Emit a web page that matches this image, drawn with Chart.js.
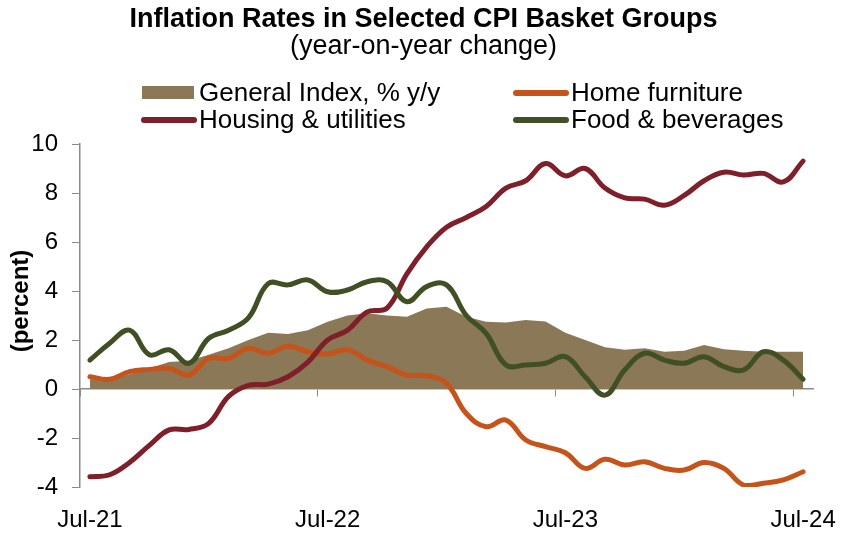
<!DOCTYPE html>
<html>
<head>
<meta charset="utf-8">
<script src="https://cdn.jsdelivr.net/npm/chart.js@4"></script>
<style>
  html, body { margin: 0; padding: 0; background: #fff; }
  #wrap { width: 847px; height: 536px; }
</style>
</head>
<body>
<div id="wrap"><canvas id="cpiChart"></canvas></div>
<script>
const months = ['Jul-21','Aug-21','Sep-21','Oct-21','Nov-21','Dec-21','Jan-22','Feb-22','Mar-22','Apr-22','May-22','Jun-22',
                'Jul-22','Aug-22','Sep-22','Oct-22','Nov-22','Dec-22','Jan-23','Feb-23','Mar-23','Apr-23','May-23','Jun-23',
                'Jul-23','Aug-23','Sep-23','Oct-23','Nov-23','Dec-23','Jan-24','Feb-24','Mar-24','Apr-24','May-24','Jun-24',
                'Jul-24'];

const generalIndex = [0.4, 0.4, 0.6, 0.85, 1.1, 1.15, 1.4, 1.66, 2.0, 2.3, 2.25, 2.4,
                      2.75, 3.0, 3.09, 3.0, 2.95, 3.29, 3.36, 2.95, 2.75, 2.71, 2.82, 2.76,
                      2.3, 2.0, 1.7, 1.6, 1.66, 1.52, 1.56, 1.8, 1.62, 1.56, 1.52, 1.52, 1.52];
const homeFurniture = [0.5, 0.4, 0.71, 0.8, 0.84, 0.57, 1.25, 1.25, 1.66, 1.46, 1.75, 1.52,
                       1.43, 1.6, 1.18, 0.91, 0.57, 0.54, 0.23, -1.0, -1.54, -1.27, -2.08, -2.35,
                       -2.6, -3.24, -2.87, -3.1, -2.97, -3.24, -3.31, -3.0, -3.24, -3.92, -3.85, -3.71, -3.38];
const housingUtilities = [-3.58, -3.5, -3.0, -2.3, -1.67, -1.65, -1.4, -0.3, 0.15, 0.2, 0.5, 1.1,
                          2.0, 2.4, 3.15, 3.3, 4.7, 5.8, 6.6, 7.0, 7.45, 8.2, 8.5, 9.2,
                          8.7, 9.0, 8.2, 7.8, 7.75, 7.5, 7.9, 8.5, 8.85, 8.73, 8.8, 8.45, 9.3];
const foodBeverages = [1.18, 1.87, 2.4, 1.4, 1.6, 1.05, 2.07, 2.4, 2.9, 4.3, 4.25, 4.45,
                       3.97, 4.04, 4.38, 4.38, 3.56, 4.18, 4.25, 3.0, 2.27, 0.98, 0.98, 1.05,
                       1.32, 0.5, -0.25, 0.78, 1.46, 1.18, 1.05, 1.32, 0.91, 0.78, 1.52, 1.18, 0.4];

const FONT = '"Liberation Sans", Arial, sans-serif';
const AXIS_GREY = '#8a8a8a';

// title, subtitle, 2x2 legend and y-axis title
const headerPlugin = {
  id: 'header',
  afterDraw(chart) {
    const c = chart.ctx;
    c.save();
    c.fillStyle = '#000';
    c.textAlign = 'center';
    c.textBaseline = 'middle';
    c.font = 'bold 27px ' + FONT;
    c.fillText('Inflation Rates in Selected CPI Basket Groups', chart.width / 2, 20);
    c.font = '27px ' + FONT;
    c.fillText('(year-on-year change)', chart.width / 2, 47);

    const slots = [[142, 93], [514, 93], [142, 120], [514, 120]];
    chart.data.datasets.forEach((ds, i) => {
      const [x, y] = slots[i];
      if (ds.fill) {
        c.fillStyle = ds.backgroundColor;
        c.fillRect(x, y - 7, 52, 13);
      } else {
        c.strokeStyle = ds.borderColor;
        c.lineWidth = 6;
        c.lineCap = 'round';
        c.beginPath();
        c.moveTo(x + 2, y);
        c.lineTo(x + 52, y);
        c.stroke();
      }
      c.fillStyle = '#000';
      c.textAlign = 'left';
      c.font = '26px ' + FONT;
      c.fillText(ds.label, x + 57, y + 1);
    });

    c.translate(21, 301);
    c.rotate(-Math.PI / 2);
    c.textAlign = 'center';
    c.font = 'bold 24px ' + FONT;
    c.fillText('(percent)', 0, 0);
    c.restore();
  }
};

const ctx = document.getElementById('cpiChart').getContext('2d');

new Chart(ctx, {
  type: 'line',
  data: {
    labels: months,
    datasets: [
      {
        label: 'General Index, % y/y',
        data: generalIndex,
        fill: 'origin',
        backgroundColor: 'rgb(139, 120, 87)',
        borderWidth: 0,
        pointRadius: 0,
        tension: 0,
        order: 4
      },
      {
        label: 'Home furniture',
        data: homeFurniture,
        borderColor: 'rgb(197, 83, 26)',
        borderWidth: 5,
        pointRadius: 0,
        tension: 0.4,
        borderCapStyle: 'round',
        borderJoinStyle: 'round',
        order: 3
      },
      {
        label: 'Housing & utilities',
        data: housingUtilities,
        borderColor: 'rgb(126, 31, 42)',
        borderWidth: 5,
        pointRadius: 0,
        tension: 0.4,
        borderCapStyle: 'round',
        borderJoinStyle: 'round',
        order: 2
      },
      {
        label: 'Food & beverages',
        data: foodBeverages,
        borderColor: 'rgb(64, 79, 36)',
        borderWidth: 5,
        pointRadius: 0,
        tension: 0.4,
        borderCapStyle: 'round',
        borderJoinStyle: 'round',
        order: 1
      }
    ]
  },
  options: {
    responsive: true,
    maintainAspectRatio: false,
    animation: false,
    layout: { padding: { top: 144, right: 34, left: 0, bottom: 0 } },
    plugins: {
      legend: { display: false },
      title: { display: false },
      tooltip: { enabled: false }
    },
    scales: {
      x: {
        type: 'category',
        position: { y: 0 },
        offset: true,
        grid: {
          offset: true,
          drawOnChartArea: false,
          drawTicks: true,
          tickLength: 7,
          color: (c) => (c.index !== undefined && c.index % 12 === 0) ? AXIS_GREY : 'rgba(0,0,0,0)'
        },
        border: { display: true, color: AXIS_GREY, width: 1.5 },
        ticks: { display: false }
      },
      x2: {
        type: 'category',
        position: 'bottom',
        offset: true,
        grid: { display: false, drawTicks: false },
        border: { display: false },
        ticks: {
          autoSkip: false,
          maxRotation: 0,
          padding: 19,
          color: '#000',
          font: { family: FONT, size: 24 },
          callback: function (value, index) {
            return index % 12 === 0 ? this.getLabelForValue(value) : '';
          }
        },
        afterFit: (s) => {
          s.height = 49;
          s.paddingLeft = 0;
          s.paddingRight = 0;
        }
      },
      y: {
        min: -4,
        max: 10,
        ticks: {
          stepSize: 2,
          padding: 14,
          color: '#000',
          font: { family: FONT, size: 24 }
        },
        grid: {
          drawOnChartArea: false,
          drawTicks: true,
          tickLength: 8,
          color: AXIS_GREY
        },
        border: { display: true, color: AXIS_GREY, width: 1.5 },
        afterFit: (s) => { s.width = 80; }
      }
    }
  },
  plugins: [headerPlugin]
});
</script>
</body>
</html>
